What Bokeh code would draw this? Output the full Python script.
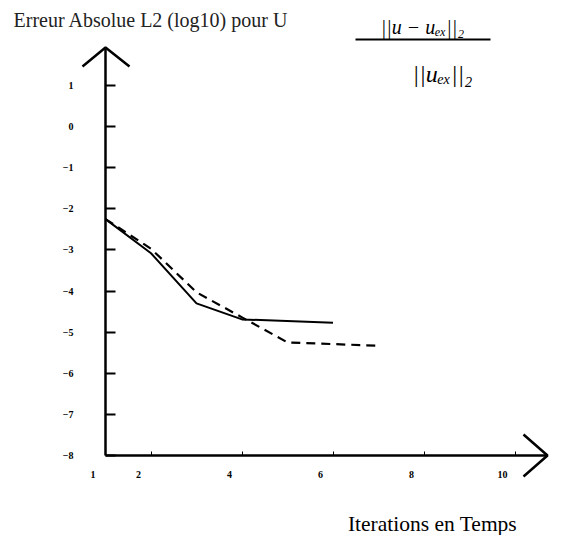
from bokeh.plotting import figure
from bokeh.models import LinearAxis, FixedTicker, Range1d, Label, CustomJSTickFormatter
from bokeh.embed import file_html
from bokeh.resources import INLINE

# ---------------- data ----------------
solid_x = [1, 2, 3, 4, 6]
solid_y = [-2.25, -3.08, -4.30, -4.69, -4.77]
dashed_x = [1, 2, 3, 4, 5, 7]
dashed_y = [-2.25, -2.97, -4.03, -4.64, -5.25, -5.33]
y_ticks = [1, 0, -1, -2, -3, -4, -5, -6, -7, -8]
x_tick_marks = [2, 4, 6, 8, 10]
x_tick_labels = [1, 2, 4, 6, 8, 10]
title_text = "Erreur Absolue L2 (log10) pour U"
xlabel_text = "Iterations en Temps"
formula_num = "||u \u2212 u\u2091\u2093||\u2082"
formula_den = "||u\u2091\u2093||\u2082"

# ---------------- layout ----------------
W, H = 549, 535
PX_X = 45.5    # pixels per x unit
PX_Y = 41.11   # pixels per y unit
X0, Y0 = 1.0, -8.0          # where the two axes cross
OX, OY = 105, 455           # that point, in picture pixels (from top-left)
x_start = X0 - OX / PX_X
x_end = x_start + W / PX_X
y_end = Y0 + OY / PX_Y
y_start = y_end - H / PX_Y


def dx(px):  # picture pixel -> data x
    return x_start + px / PX_X


def dy(py):  # picture pixel -> data y
    return y_end - py / PX_Y


p = figure(width=W, height=H, x_range=Range1d(x_start, x_end), y_range=Range1d(y_start, y_end),
           x_axis_type=None, y_axis_type=None, toolbar_location=None, output_backend="svg",
           min_border=0, outline_line_color=None, title=None)
p.background_fill_color = "white"

SERIF = "Liberation Serif"

# y axis (ticks + labels) drawn at x = X0
yax = LinearAxis(fixed_location=X0, ticker=FixedTicker(ticks=y_ticks))
yax.axis_line_color = None
yax.major_tick_in = 10
yax.major_tick_out = 0
yax.major_tick_line_width = 2
yax.minor_tick_line_color = None
yax.major_label_standoff = 32
yax.major_label_text_font = SERIF
yax.major_label_text_font_style = "bold"
yax.major_label_text_font_size = "10px"
yax.major_label_text_color = "black"
p.add_layout(yax, "left")

# x axis tick marks at y = Y0
xax = LinearAxis(fixed_location=Y0, ticker=FixedTicker(ticks=x_tick_marks),
                 formatter=CustomJSTickFormatter(code="return ''"))
xax.axis_line_color = None
xax.major_tick_in = 4
xax.major_tick_out = 0
xax.major_tick_line_width = 1
xax.minor_tick_line_color = None
p.add_layout(xax, "below")

# x tick labels (printed slightly left of the marks, as in the scan)
off = 12.5 / PX_X
p.extra_x_ranges = {"xlab": Range1d(x_start + off, x_end + off)}
xlab = LinearAxis(fixed_location=Y0, x_range_name="xlab", ticker=FixedTicker(ticks=x_tick_labels))
xlab.axis_line_color = None
xlab.major_tick_line_color = None
xlab.minor_tick_line_color = None
xlab.major_tick_in = 0
xlab.major_tick_out = 0
xlab.major_label_standoff = 15
xlab.major_label_text_font = SERIF
xlab.major_label_text_font_style = "bold"
xlab.major_label_text_font_size = "10px"
xlab.major_label_text_color = "black"
p.add_layout(xlab, "below")

# axis lines with arrow heads
y_tip = dy(47)
x_tip = dx(547)
p.line([X0, X0], [Y0, y_tip], line_color="black", line_width=2.5)
p.line([X0, x_tip], [Y0, Y0], line_color="black", line_width=2.5)
p.line([dx(82), X0, dx(129)], [dy(66), y_tip, dy(66)], line_color="black", line_width=2.5)
p.line([dx(523), x_tip, dx(523)], [dy(434), Y0, dy(476)], line_color="black", line_width=2.5)

# data series
p.line(solid_x, solid_y, line_color="black", line_width=2)
p.line(dashed_x, dashed_y, line_color="black", line_width=2.2, line_dash="9 6")

# texts
p.add_layout(Label(x=dx(13), y=dy(19), text=title_text, text_font=SERIF, text_font_size="20px",
                   text_color="#222222", text_baseline="alphabetic", text_align="left"))
p.add_layout(Label(x=dx(432), y=dy(523), text=xlabel_text, text_font=SERIF, text_font_size="21.5px",
                   text_color="black", text_baseline="middle", text_align="center"))
p.add_layout(Label(x=dx(422), y=dy(26), text=formula_num, text_font=SERIF, text_font_style="italic",
                   text_font_size="20px", text_color="black", text_baseline="alphabetic",
                   text_align="center"))
p.line([dx(355), dx(490)], [dy(39), dy(39)], line_color="black", line_width=2)
p.add_layout(Label(x=dx(442), y=dy(73), text=formula_den, text_font=SERIF, text_font_style="italic",
                   text_font_size="24px", text_color="black", text_baseline="alphabetic",
                   text_align="center"))

open("out.html", "w").write(file_html(p, INLINE))
